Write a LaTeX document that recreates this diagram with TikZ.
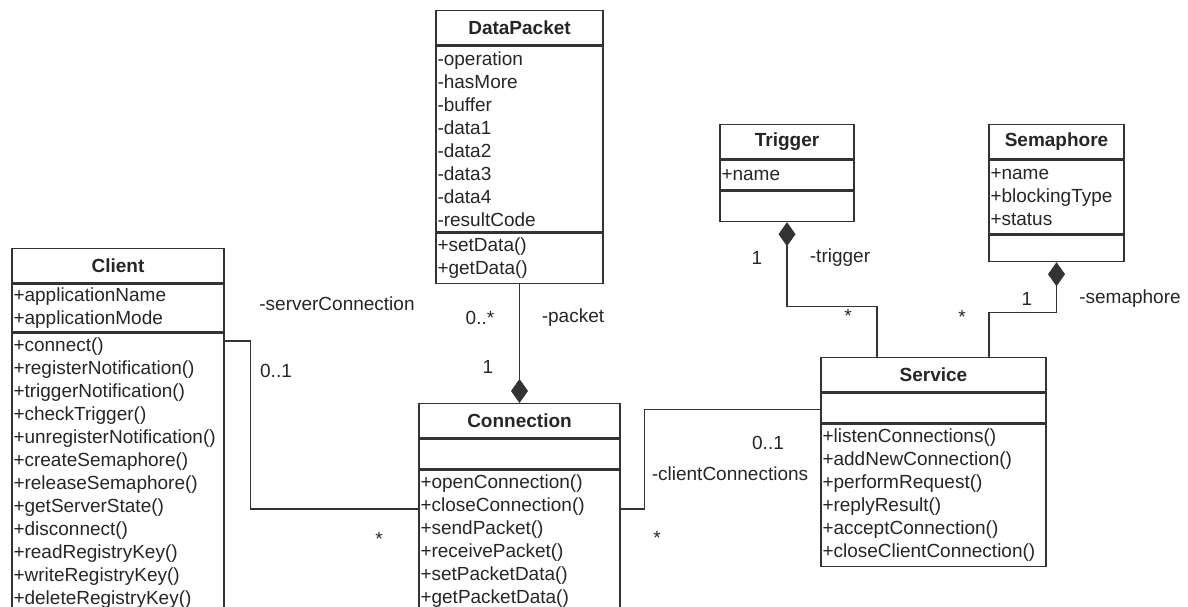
\documentclass[tikz,border=0pt]{standalone}
\usepackage{fontspec}
\setmainfont{Liberation Sans}
\usepackage{tikz}
\usetikzlibrary{arrows.meta,positioning,calc}

\begin{document}
\begin{tikzpicture}[
    x=1pt, y=-1pt,
    line width=1.4pt, draw=black!80,
    txt/.style={font=\fontsize{19}{23}\selectfont, text=black!85},
    classhead/.style={draw, txt, anchor=north, minimum height=34pt, inner sep=0pt, font=\fontsize{19}{23}\selectfont\bfseries},
    compart/.style={draw, txt, align=left, inner xsep=1.5pt, inner ysep=0pt},
    mult/.style={txt, inner sep=0pt},
    assoc/.style={draw=black!80},
    compose/.style={draw=black!80, -{Diamond[length=24pt, width=17pt]}}
  ]
    \fill[white] (0,0) rectangle (1188,607);
    \useasboundingbox (0,0) rectangle (1188,607);

    % classes
    \node[classhead, minimum width=212pt] (client) at (118,248) {Client};
    \node[compart, text width=209pt, minimum height=48pt, below=0pt of client] (client-a) {+applicationName\\+applicationMode};
    \node[compart, text width=209pt, minimum height=280pt, below=0pt of client-a] (client-m) {+connect()\\+registerNotification()\\+triggerNotification()\\+checkTrigger()\\+unregisterNotification()\\+createSemaphore()\\+releaseSemaphore()\\+getServerState()\\+disconnect()\\+readRegistryKey()\\+writeRegistryKey()\\+deleteRegistryKey()};

    \node[classhead, minimum width=167pt] (dp) at (519.5,10) {DataPacket};
    \node[compart, text width=164pt, minimum height=186pt, below=0pt of dp] (dp-a) {-operation\\-hasMore\\-buffer\\-data1\\-data2\\-data3\\-data4\\-resultCode};
    \node[compart, text width=164pt, minimum height=50pt, below=0pt of dp-a] (dp-m) {+setData()\\+getData()};

    \node[classhead, minimum width=201pt] (conn) at (519.5,403) {Connection};
    \node[compart, text width=198pt, minimum height=30pt, below=0pt of conn] (conn-a) {};
    \node[compart, text width=198pt, minimum height=142pt, below=0pt of conn-a] (conn-m) {+openConnection()\\+closeConnection()\\+sendPacket()\\+receivePacket()\\+setPacketData()\\+getPacketData()};

    \node[classhead, minimum width=134pt] (trig) at (787,124) {Trigger};
    \node[compart, text width=131pt, minimum height=30pt, below=0pt of trig] (trig-a) {+name};
    \node[compart, text width=131pt, minimum height=30pt, below=0pt of trig-a] (trig-m) {};

    \node[classhead, minimum width=135pt] (sem) at (1056.5,124) {Semaphore};
    \node[compart, text width=132pt, minimum height=74pt, below=0pt of sem] (sem-a) {+name\\+blockingType\\+status};
    \node[compart, text width=132pt, minimum height=26pt, below=0pt of sem-a] (sem-m) {};

    \node[classhead, minimum width=225pt] (svc) at (933.5,357) {Service};
    \node[compart, text width=222pt, minimum height=30pt, below=0pt of svc] (svc-a) {};
    \node[compart, text width=222pt, minimum height=142pt, below=0pt of svc-a] (svc-m) {+listenConnections()\\+addNewConnection()\\+performRequest()\\+replyResult()\\+acceptConnection()\\+closeClientConnection()};

    % associations
    \draw[assoc] ($(client-m.north east)+(0,8)$) -- ++(26,0) |- ($(conn-m.north west)+(0,39)$);
    \draw[assoc] ($(conn-m.north east)+(0,39)$) -- ++(24,0) |- ($(svc-a.north west)+(0,17)$);
    \draw[compose] (dp-m.south) -- (conn.north);
    \draw[compose] ($(svc.north)+(-56.5,0)$) |- ($(trig-m.south)+(0,84)$) -- (trig-m.south);
    \draw[compose] ($(svc.north)+(55.5,0)$) |- ($(sem-m.south)+(0,50)$) -- (sem-m.south);

    % roles and multiplicities
    \node[mult] (sc-role) at (337,304) {-serverConnection};
    \node[mult] (sc-one) at (276,371) {0..1};
    \node[mult] (sc-many) at (379,539) {*};
    \node[mult] (pk-many) at (480,318) {0..*};
    \node[mult] (pk-role) at (573,318) {-packet};
    \node[mult] (pk-one) at (488,367) {1};
    \node[mult] (cc-one) at (768,443) {0..1};
    \node[mult] (cc-role) at (730,474) {-clientConnections};
    \node[mult] (cc-many) at (657,538) {*};
    \node[mult] (tr-one) at (757,258) {1};
    \node[mult] (tr-role) at (840,258) {-trigger};
    \node[mult] (tr-many) at (848,316) {*};
    \node[mult] (sm-many) at (962,317) {*};
    \node[mult] (sm-one) at (1027,299) {1};
    \node[mult] (sm-role) at (1130,299) {-semaphore};
  \end{tikzpicture}
\end{document}
